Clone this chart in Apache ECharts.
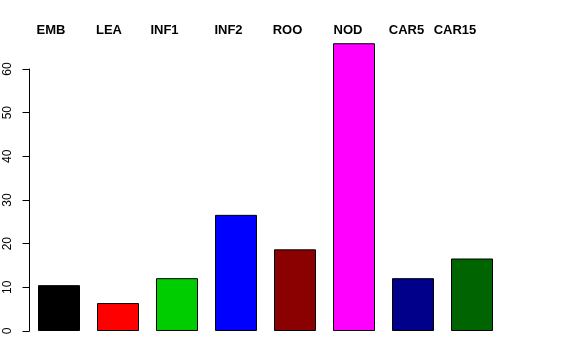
<!DOCTYPE html>
<html><head><meta charset="utf-8">
<script src="https://cdn.jsdelivr.net/npm/echarts@6/dist/echarts.min.js"></script>
<style>html,body{margin:0;padding:0;background:#fff}#c{width:576px;height:360px}</style>
</head><body><div id="c"></div>
<script>
var categories = ["EMB","LEA","INF1","INF2","ROO","NOD","CAR5","CAR15"];
var values = [10.5, 6.4, 12.1, 26.6, 18.7, 65.9, 12.1, 16.6];
var colors = ["#000000","#FF0000","#00CD00","#0000FF","#8B0000","#FF00FF","#00008B","#006400"];
var yTicks = [0,10,20,30,40,50,60];
var labelCenters = [51,109,164.5,228.5,287.5,348,406.5,455];

var chart = echarts.init(document.getElementById('c'), null, {renderer:'canvas'});
var graphics = categories.map(function(c,i){
  return {type:'text', x: labelCenters[i], y: 30,
    style:{text:c, fill:'#000', font:'bold 13px "Liberation Sans", Arial, sans-serif', textAlign:'center', textVerticalAlign:'middle'}};
});
chart.setOption({
  animation:false,
  backgroundColor:'#fff',
  grid:{left:29.5, right:74.5, top:69, bottom:29},
  xAxis:{type:'category', data:categories, show:false},
  yAxis:{type:'value', min:0, max:60, interval:10,
    axisLine:{show:true, lineStyle:{color:'#000', width:1}},
    axisTick:{show:true, length:7, lineStyle:{color:'#000'}},
    splitLine:{show:false},
    axisLabel:{rotate:90, margin:16, color:'#000', fontSize:12, fontFamily:'"Liberation Sans", Arial, sans-serif',
      formatter:function(v){return yTicks.indexOf(v)>=0 ? String(v) : '';}}
  },
  series:[{type:'bar', clip:false, barWidth:42,
    data: values.map(function(v,i){return {value:v, itemStyle:{color:colors[i]}};}),
    itemStyle:{borderColor:'#000', borderWidth:1}
  }],
  graphic: graphics
});
</script></body></html>
